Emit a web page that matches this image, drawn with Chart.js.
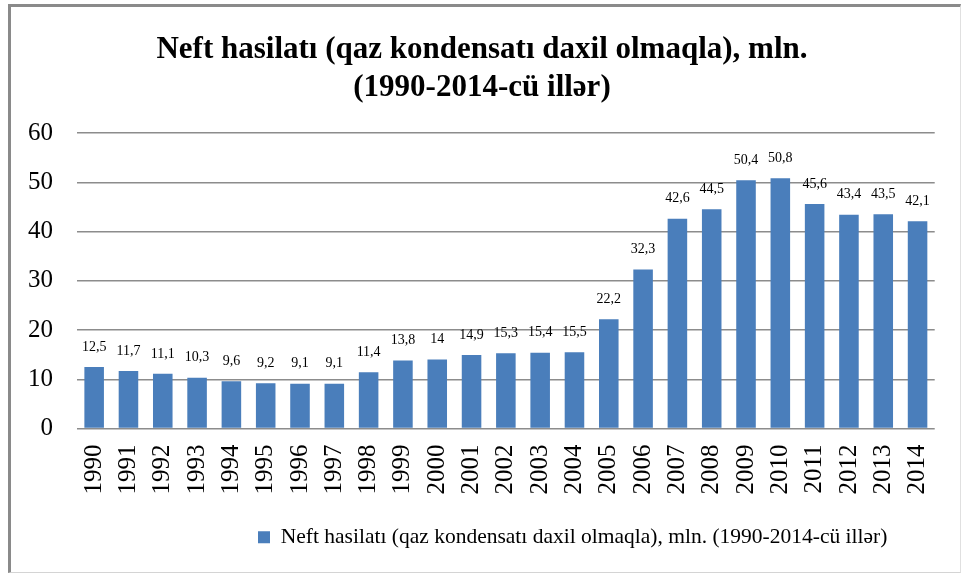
<!DOCTYPE html>
<html>
<head>
<meta charset="utf-8">
<script src="https://cdn.jsdelivr.net/npm/chart.js@4/dist/chart.umd.min.js"></script>
<style>
  html, body { margin: 0; padding: 0; background: #fff; }
  #wrap { position: relative; width: 964px; height: 575px; }
  #c { position: absolute; left: 0; top: 0; }
  #frame {
    position: absolute; left: 8px; top: 4px; width: 953px; height: 569px;
    border-left: 3px solid #8a8a8a; border-top: 3px solid #8a8a8a;
    border-right: 1px solid #e0e0e0; border-bottom: 1px solid #d4d4d4;
    pointer-events: none; box-sizing: border-box;
  }
</style>
</head>
<body>
<div id="wrap">
  <canvas id="c" width="964" height="575"></canvas>
  <div id="frame"></div>
</div>
<script>
const titleLines = ["Neft hasilatı (qaz kondensatı daxil olmaqla), mln.", "(1990-2014-cü illər)"];
const seriesName = "Neft hasilatı (qaz kondensatı daxil olmaqla), mln. (1990-2014-cü illər)";
const years = ["1990","1991","1992","1993","1994","1995","1996","1997","1998","1999","2000","2001","2002","2003","2004","2005","2006","2007","2008","2009","2010","2011","2012","2013","2014"];
const production = [12.5, 11.7, 11.1, 10.3, 9.6, 9.2, 9.1, 9.1, 11.4, 13.8, 14, 14.9, 15.3, 15.4, 15.5, 22.2, 32.3, 42.6, 44.5, 50.4, 50.8, 45.6, 43.4, 43.5, 42.1];
const yTicks = [0, 10, 20, 30, 40, 50, 60];

const labelPlugin = {
  id: 'valueLabels',
  afterDatasetsDraw(chart) {
    const ctx = chart.ctx;
    const meta = chart.getDatasetMeta(0);
    ctx.save();
    ctx.font = '14px "Liberation Serif"';
    ctx.fillStyle = '#000';
    ctx.textAlign = 'center';
    ctx.textBaseline = 'middle';
    meta.data.forEach((bar, i) => {
      const v = chart.data.datasets[0].data[i];
      ctx.fillText(String(v).replace('.', ','), bar.x, bar.y - 20);
    });
    ctx.restore();
  }
};

const boxShift = {
  id: 'boxShift',
  afterLayout(chart) {
    const lg = chart.legend;
    const w = lg.right - lg.left;
    lg.left = 242;
    lg.right = lg.left + w;
    const tb = chart.titleBlock;
    tb.left += 9;
    tb.right += 9;
  }
};

new Chart(document.getElementById('c'), {
  type: 'bar',
  data: {
    labels: years,
    datasets: [{
      label: seriesName,
      data: production,
      backgroundColor: '#4a7ebb',
      borderWidth: 0,
      barPercentage: 0.57,
      categoryPercentage: 1.0
    }]
  },
  options: {
    responsive: false,
    animation: false,
    devicePixelRatio: 1,
    layout: { padding: { left: 4, right: 22, top: 13, bottom: 17 } },
    plugins: {
      title: {
        display: true,
        text: titleLines,
        color: '#000',
        font: { family: '"Liberation Serif"', size: 31, weight: 'bold', lineHeight: 1.226 },
        padding: { top: 18, bottom: 26 }
      },
      legend: {
        display: true,
        position: 'bottom',
        align: 'start',
        labels: {
          color: '#000',
          font: { family: '"Liberation Serif"', size: 21.5 },
          boxWidth: 12, boxHeight: 12, padding: 16
        }
      },
      tooltip: { enabled: false }
    },
    scales: {
      y: {
        min: 0, max: 60,
        afterBuildTicks(axis) { axis.ticks = yTicks.map(v => ({ value: v })); },
        border: { display: false },
        grid: { color: '#8c8c8c', lineWidth: 1.4, drawTicks: false },
        ticks: {
          color: '#000', padding: 24,
          font: { family: '"Liberation Serif"', size: 25 }
        }
      },
      x: {
        border: { display: false },
        grid: { display: false, drawTicks: false },
        ticks: {
          color: '#000', minRotation: 90, maxRotation: 90, padding: 16,
          font: { family: '"Liberation Serif"', size: 25 }
        }
      }
    }
  },
  plugins: [labelPlugin, boxShift]
});
</script>
</body>
</html>
